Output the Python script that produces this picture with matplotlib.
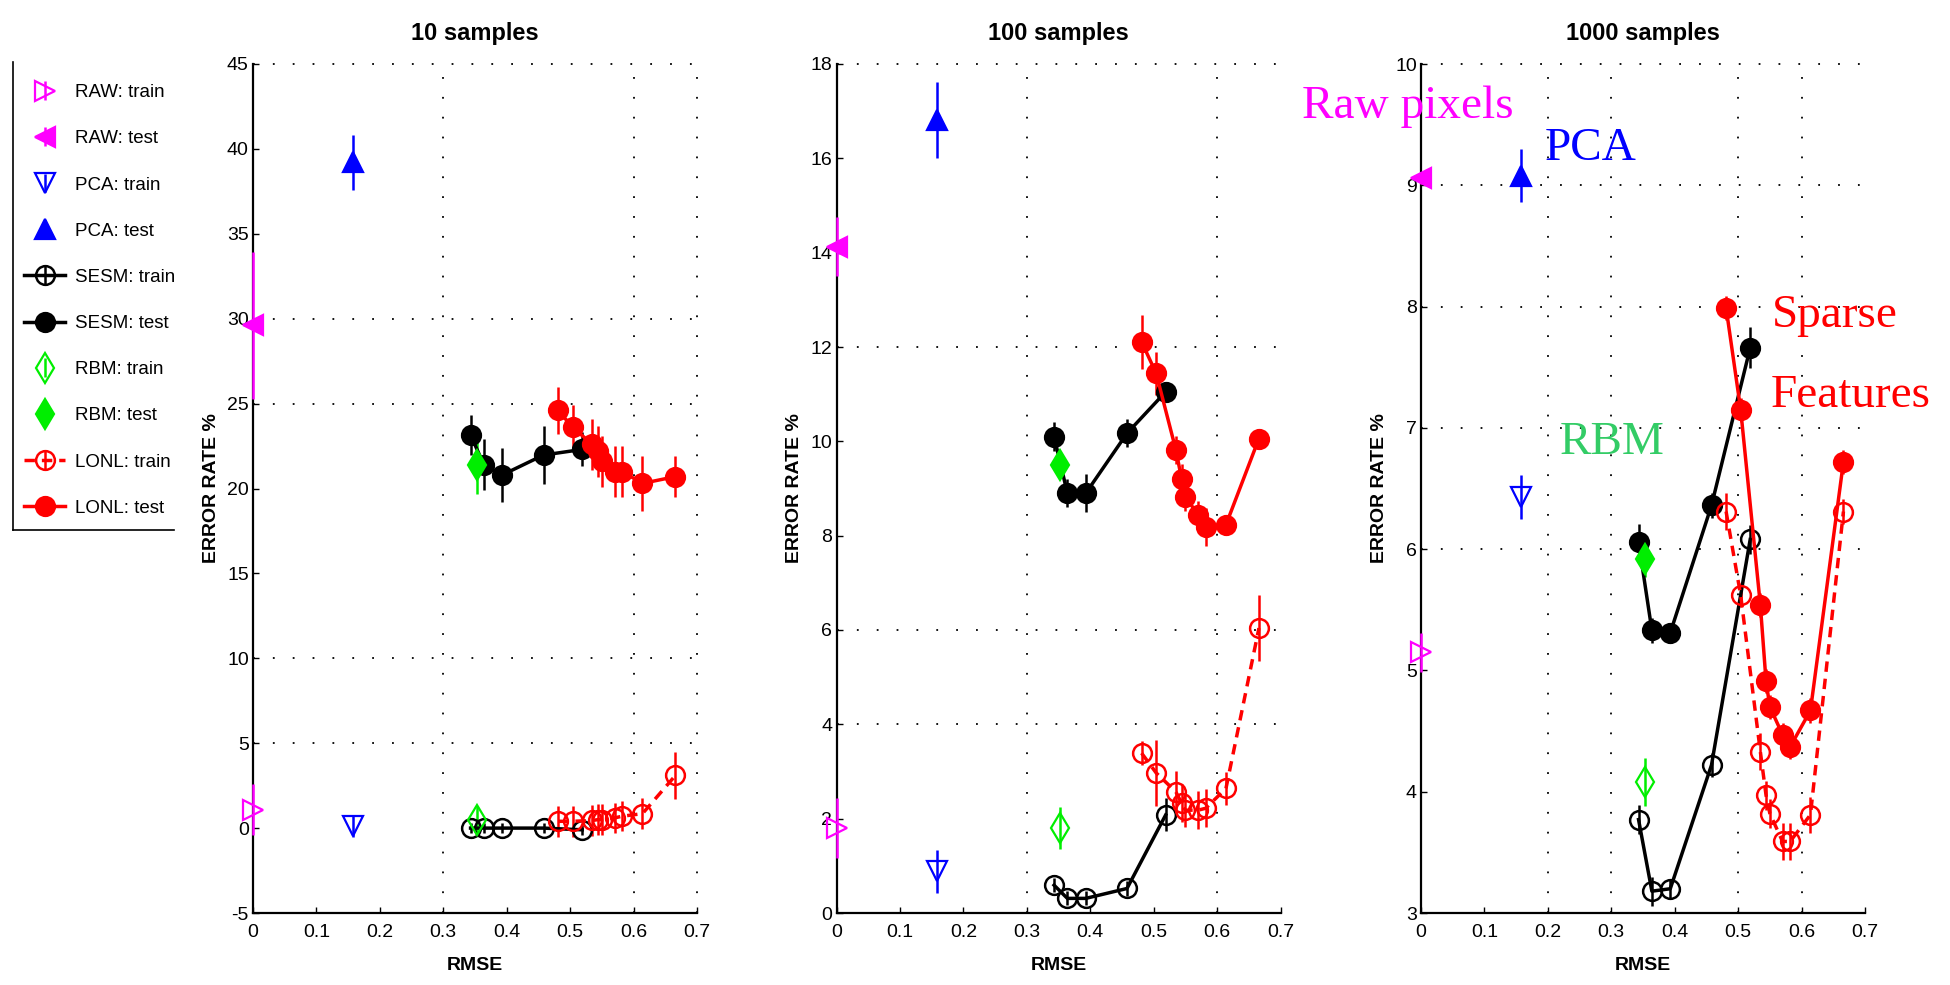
import matplotlib
matplotlib.use("Agg")
import matplotlib.pyplot as plt
from matplotlib.lines import Line2D

plt.rcParams["font.family"] = ["Liberation Sans", "DejaVu Sans"]
plt.rcParams["axes.unicode_minus"] = False

# ---------------- data ----------------
panel_titles = ["10 samples", "100 samples", "1000 samples"]
y_limits = [(-5, 45), (0, 18), (3, 10)]
y_ticks = [list(range(-5, 50, 5)), list(range(0, 20, 2)), list(range(3, 11))]
x_ticks = [0, 0.1, 0.2, 0.3, 0.4, 0.5, 0.6, 0.7]

# reconstruction RMSE of each feature type (shared by all panels)
raw_x = 0.0
pca_x = 0.158
rbm_x = 0.353
sesm_x = [0.343, 0.364, 0.393, 0.458, 0.519]
lonl_x = [0.481, 0.504, 0.535, 0.544, 0.550, 0.570, 0.582, 0.614, 0.666]

# error rates (%) per panel: 10, 100, 1000 samples
raw_train = [1.07, 1.80, 5.15]
raw_train_err = [1.5, 0.63, 0.16]
raw_test = [29.6, 14.13, 9.06]
raw_test_err = [4.3, 0.63, 0.05]

pca_train = [0.1, 0.88, 6.43]
pca_train_err = [0.6, 0.45, 0.18]
pca_test = [39.2, 16.81, 9.08]
pca_test_err = [1.6, 0.8, 0.22]

rbm_train = [0.5, 1.80, 4.08]
rbm_train_err = [0.8, 0.45, 0.2]
rbm_test = [21.4, 9.50, 5.92]
rbm_test_err = [1.7, 0.2, 0.15]

sesm_train = [
    [0.0, 0.0, 0.0, 0.0, -0.1],
    [0.59, 0.31, 0.31, 0.52, 2.08],
    [3.77, 3.18, 3.20, 4.22, 6.08],
]
sesm_train_err = [
    [0.3, 0.3, 0.3, 0.3, 0.3],
    [0.15, 0.15, 0.15, 0.15, 0.35],
    [0.12, 0.12, 0.08, 0.1, 0.12],
]
sesm_test = [
    [23.15, 21.4, 20.8, 21.97, 22.3],
    [10.10, 8.90, 8.90, 10.17, 11.05],
    [6.06, 5.33, 5.31, 6.36, 7.66],
]
sesm_test_err = [
    [1.2, 1.5, 1.6, 1.7, 1.0],
    [0.3, 0.3, 0.4, 0.3, 0.2],
    [0.15, 0.1, 0.08, 0.1, 0.17],
]

lonl_train = [
    [0.4, 0.4, 0.45, 0.5, 0.5, 0.6, 0.7, 0.85, 3.1],
    [3.39, 2.97, 2.57, 2.33, 2.18, 2.18, 2.22, 2.64, 6.04],
    [6.31, 5.62, 4.33, 3.97, 3.82, 3.59, 3.59, 3.81, 6.31],
]
lonl_train_err = [
    [0.9, 0.9, 0.9, 0.9, 0.9, 0.9, 0.9, 0.9, 1.4],
    [0.25, 0.7, 0.45, 0.4, 0.35, 0.4, 0.4, 0.35, 0.7],
    [0.15, 0.1, 0.15, 0.12, 0.12, 0.15, 0.15, 0.15, 0.1],
]
lonl_test = [
    [24.6, 23.6, 22.6, 22.2, 21.6, 21.0, 21.0, 20.3, 20.7],
    [12.11, 11.44, 9.82, 9.21, 8.83, 8.44, 8.19, 8.23, 10.06],
    [7.99, 7.15, 5.54, 4.91, 4.70, 4.47, 4.37, 4.67, 6.72],
]
lonl_test_err = [
    [1.4, 1.3, 1.5, 1.5, 1.5, 1.5, 1.5, 1.6, 1.2],
    [0.57, 0.45, 0.3, 0.3, 0.3, 0.3, 0.4, 0.2, 0.2],
    [0.1, 0.1, 0.1, 0.1, 0.1, 0.1, 0.1, 0.1, 0.1],
]

legend_labels = ["RAW: train", "RAW: test", "PCA: train", "PCA: test",
                 "SESM: train", "SESM: test", "RBM: train", "RBM: test",
                 "LONL: train", "LONL: test"]

# dotted grid lines drawn on each panel
h_grid = [[45, 30, 25, 10, 5], [18, 12, 6, 4], [10, 9, 8, 7, 6]]
v_grid = [[0.3, 0.6, 0.7], [0.3, 0.6], [0.2, 0.3, 0.5, 0.6]]

# ---------------- styles ----------------
MAG, BLUE, GREEN, RED = "#ff00ff", "#0000ff", "#00ee00", "#ff0000"
W, H = 1950, 985
fig = plt.figure(figsize=(W / 100, H / 100), dpi=100)

ax_left_px = [253, 836.5, 1421]
ax_w_px, ax_top_px, ax_bot_px = 444, 64, 913

EB = dict(capsize=0, elinewidth=1.8, zorder=3)


def point(ax, x, y, e, marker, color, filled, ms=15):
    return ax.errorbar([x], [y], yerr=[e], fmt=marker, color=color, ms=ms,
                       mfc=color if filled else "none", mec=color, mew=1.6,
                       **EB)


def series(ax, x, y, e, color, filled, ls):
    return ax.errorbar(x, y, yerr=e, fmt="o", ls=ls, lw=2.5, color=color,
                       ms=13.5, mfc=color if filled else "none", mec=color,
                       mew=1.8, **EB)


handles = None
for i in range(3):
    ax = fig.add_axes([ax_left_px[i] / W, (H - ax_bot_px) / H,
                       ax_w_px / W, (ax_bot_px - ax_top_px) / H])
    for g in h_grid[i]:
        ax.axhline(g, color="k", lw=1.3, ls=(0, (1, 10)), zorder=0)
    for g in v_grid[i]:
        ax.axvline(g, color="k", lw=1.3, ls=(0, (1, 10)), zorder=0)

    h = []
    h.append(point(ax, raw_x, raw_train[i], raw_train_err[i], ">", MAG, False))
    h.append(point(ax, raw_x, raw_test[i], raw_test_err[i], "<", MAG, True))
    h.append(point(ax, pca_x, pca_train[i], pca_train_err[i], "v", BLUE, False))
    h.append(point(ax, pca_x, pca_test[i], pca_test_err[i], "^", BLUE, True))
    h.append(series(ax, sesm_x, sesm_train[i], sesm_train_err[i], "k", False, "-"))
    h.append(series(ax, sesm_x, sesm_test[i], sesm_test_err[i], "k", True, "-"))
    h.append(point(ax, rbm_x, rbm_train[i], rbm_train_err[i], "d", GREEN, False))
    h.append(point(ax, rbm_x, rbm_test[i], rbm_test_err[i], "d", GREEN, True))
    h.append(series(ax, lonl_x, lonl_train[i], lonl_train_err[i], RED, False,
                    (0, (3, 2))))
    h.append(series(ax, lonl_x, lonl_test[i], lonl_test_err[i], RED, True, "-"))
    if handles is None:
        handles = h

    for art in ax.get_children():
        art.set_clip_on(False)

    ax.set_xlim(0, 0.7)
    ax.set_ylim(*y_limits[i])
    ax.set_xticks(x_ticks)
    ax.set_xticklabels([f"{t:g}" for t in x_ticks])
    ax.set_yticks(y_ticks[i])
    ax.tick_params(direction="in", length=4, width=1, labelsize=14)
    ax.tick_params(axis="x", pad=8)
    ax.tick_params(axis="y", pad=3)
    for s in ("top", "right"):
        ax.spines[s].set_visible(False)
    for s in ("left", "bottom"):
        ax.spines[s].set_linewidth(1.6)
    ax.set_title(panel_titles[i], fontsize=17, fontweight="bold", pad=17)
    ax.set_xlabel("RMSE", fontsize=14, fontweight="bold")
    ax.set_ylabel("ERROR RATE %", fontsize=14, fontweight="bold")
    ax.xaxis.set_label_coords(0.5, -0.052)
    ax.yaxis.set_label_coords(-0.075, 0.5)

# legend at the far left, open on top and right
fig.legend(handles, legend_labels, loc="upper left",
           bbox_to_anchor=(24 / W, 1 - 84 / H), frameon=False, fontsize=13.5,
           labelspacing=1.55, handlelength=2.2, handletextpad=0.5,
           borderpad=0, borderaxespad=0)
fig.add_artist(Line2D([13 / W, 13 / W], [1 - 62 / H, 1 - 530 / H],
                      transform=fig.transFigure, color="k", lw=1.2))
fig.add_artist(Line2D([13 / W, 174 / W], [1 - 530 / H, 1 - 530 / H],
                      transform=fig.transFigure, color="k", lw=1.2))

# annotations naming the feature types
notes = [("Raw pixels", MAG, 1302, 118), ("PCA", BLUE, 1545, 160),
         ("RBM", "#33cc66", 1560, 454), ("Sparse", RED, 1772, 327),
         ("Features", RED, 1771, 407)]
for text, col, px, py in notes:
    fig.text(px / W, 1 - py / H, text, color=col, fontsize=34,
             family=["Liberation Serif", "DejaVu Serif"], va="baseline",
             ha="left")

fig.savefig("out.png", dpi=100)
